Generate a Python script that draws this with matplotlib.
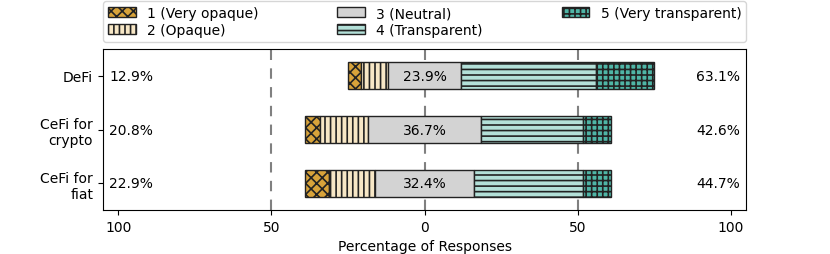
import numpy as np
import matplotlib
matplotlib.use("Agg")
import matplotlib.pyplot as plt
from matplotlib.patches import Patch

# data (percent of responses)
categories = ["DeFi", "CeFi for\ncrypto", "CeFi for\nfiat"]
levels = ["1 (Very opaque)", "2 (Opaque)", "3 (Neutral)",
          "4 (Transparent)", "5 (Very transparent)"]
very_opaque = [4.2, 5.1, 7.8]
opaque = [8.7, 15.7, 15.1]
neutral = [23.9, 36.7, 32.4]
transparent = [43.9, 33.4, 35.5]
very_transparent = [19.2, 9.2, 9.2]
left_totals = [12.9, 20.8, 22.9]
right_totals = [63.1, 42.6, 44.7]

colors = ["#d8a33a", "#f7e7c6", "#d3d3d3", "#b3e0d8", "#4fb5a6"]
hatches = ["xxx", "|||", "", "---", "+++"]

plt.rcParams["hatch.linewidth"] = 1.2
plt.rcParams["hatch.color"] = "#222222"

fig, ax = plt.subplots(figsize=(8.3, 2.55), dpi=100)
fig.subplots_adjust(left=0.124, right=0.899, top=0.804, bottom=0.172)

y = np.arange(len(categories))
vo = np.array(very_opaque)
op = np.array(opaque)
ne = np.array(neutral)
tr = np.array(transparent)
vt = np.array(very_transparent)

starts = [-ne / 2 - op - vo, -ne / 2 - op, -ne / 2, ne / 2, ne / 2 + tr]
widths = [vo, op, ne, tr, vt]

for i in range(5):
    ax.barh(y, widths[i], left=starts[i], height=0.5, color=colors[i],
            hatch=hatches[i], edgecolor="#222222", linewidth=1.0, zorder=3)

for i in range(len(categories)):
    ax.text(0, y[i], f"{neutral[i]:.1f}%", ha="center", va="center",
            fontsize=10, zorder=4)
    ax.text(-103, y[i], f"{left_totals[i]:.1f}%", ha="left", va="center",
            fontsize=10)
    ax.text(103, y[i], f"{right_totals[i]:.1f}%", ha="right", va="center",
            fontsize=10)

for xv in [-50, 0, 50]:
    ax.axvline(xv, color="gray", ls=(0, (5, 4)), lw=1.5, zorder=1)

ax.set_xlim(-105, 105)
ax.set_ylim(2.5, -0.5)
ax.set_yticks(y)
ax.set_yticklabels(categories, fontsize=10)
ax.set_xticks([-100, -50, 0, 50, 100])
ax.set_xticklabels(["100", "50", "0", "50", "100"], fontsize=10)
ax.set_xlabel("Percentage of Responses", fontsize=10)

handles = [Patch(facecolor=colors[i], hatch=hatches[i], edgecolor="#222222",
                 label=levels[i]) for i in range(5)]
ax.legend(handles=handles, ncol=3, loc="lower left",
          bbox_to_anchor=(0, 1.045, 1, 0.2), mode="expand",
          borderaxespad=0, fontsize=10, handlelength=2.0,
          labelspacing=0.2, borderpad=0.35, fancybox=True)

fig.savefig("out.png", dpi=100)
plt.close(fig)
